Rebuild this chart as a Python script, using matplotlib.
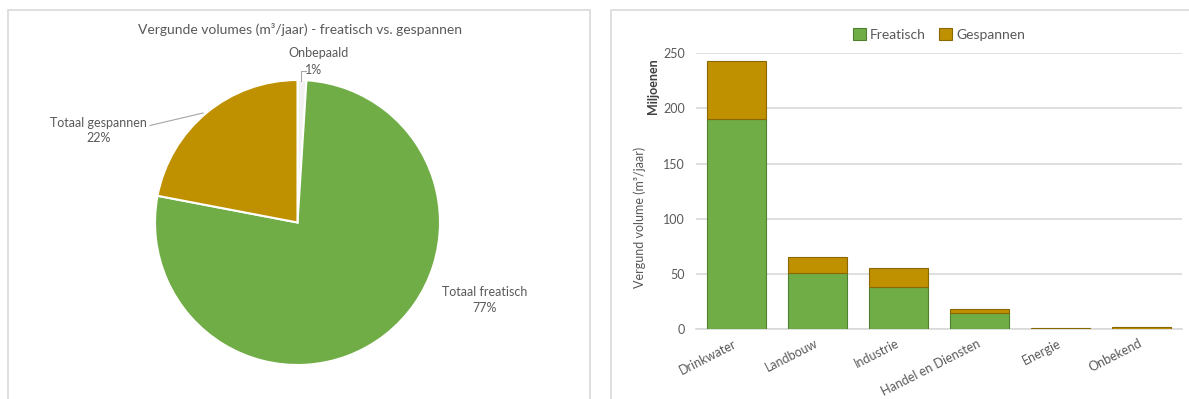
import matplotlib
matplotlib.use("Agg")
import matplotlib.pyplot as plt
import matplotlib.transforms as mtransforms
from matplotlib.patches import Rectangle

plt.rcParams['font.family'] = ['Lato', 'DejaVu Sans']

# ---- data ----
pie_labels = ["Onbepaald", "Totaal freatisch", "Totaal gespannen"]
pie_values = [1, 77, 22]
pie_colors = ["#f2f2f2", "#70AD47", "#BF9000"]

categories = ["Drinkwater", "Landbouw", "Industrie", "Handel en Diensten", "Energie", "Onbekend"]
freatisch = [190.0, 51.0, 38.5, 14.5, 0.4, 0.3]
gespannen = [53.0, 14.0, 17.0, 3.5, 0.5, 1.7]
yticks = [0, 50, 100, 150, 200, 250]

W, H = 1189, 399
fig = plt.figure(figsize=(W / 100, H / 100), dpi=100)
TXT = "#595959"
GRID = "#d9d9d9"

def fx(px):
    return px / W

def fy(py):
    return 1 - py / H

# panel borders
fig.patches.append(Rectangle((fx(7.5), fy(420)), fx(590 - 7.5), fy(9.5) - fy(420),
                             transform=fig.transFigure, fill=False, ec=GRID, lw=1.2))
fig.patches.append(Rectangle((fx(610.5), fy(420)), fx(1200 - 610.5), fy(9.5) - fy(420),
                             transform=fig.transFigure, fill=False, ec=GRID, lw=1.2))

# ---- pie (pixel-coordinate axes) ----
axp = fig.add_axes([0, 0, 600 / W, 1])
cx, cy, r = 297.5, H - 222.5, 142.5
axp.pie(pie_values, colors=pie_colors, startangle=90, counterclock=False,
        center=(cx, cy), radius=r, frame=True,
        wedgeprops=dict(edgecolor="white", linewidth=1.5))
axp.set_xlim(0, 600)
axp.set_ylim(0, H)
axp.set_aspect("auto")
axp.axis("off")

fs = 9
axp.text(299.5, H - 30, "Vergunde volumes (m³/jaar) - freatisch vs. gespannen",
         ha="center", va="center", fontsize=10, color=TXT)
axp.text(318.5, H - 53, pie_labels[0], ha="center", va="center", fontsize=fs, color=TXT)
axp.text(313.5, H - 70, f"{pie_values[0]}%", ha="center", va="center", fontsize=fs, color=TXT)
axp.plot([306, 301, 301], [H - 71, H - 71, H - 81], color="#a6a6a6", lw=0.8)
axp.text(98.5, H - 123, pie_labels[2], ha="center", va="center", fontsize=fs, color=TXT)
axp.text(98.5, H - 138, f"{pie_values[2]}%", ha="center", va="center", fontsize=fs, color=TXT)
axp.plot([150, 203], [H - 125.5, H - 113], color="#a6a6a6", lw=0.8)
axp.text(485, H - 292, pie_labels[1], ha="center", va="center", fontsize=fs, color=TXT)
axp.text(485, H - 308, f"{pie_values[1]}%", ha="center", va="center", fontsize=fs, color=TXT)

# ---- stacked bars ----
ax = fig.add_axes([fx(696), fy(329), fx(1182 - 696), fy(53.3) - fy(329)])
x = list(range(len(categories)))
ax.bar(x, freatisch, width=0.74, color="#70AD47", edgecolor="#4f7f30", linewidth=0.8,
       label="Freatisch", zorder=3)
ax.bar(x, gespannen, width=0.74, bottom=freatisch, color="#BF9000", edgecolor="#8a6800",
       linewidth=0.8, label="Gespannen", zorder=3)
ax.set_xlim(-0.5, len(categories) - 0.5)
ax.set_ylim(0, 250)
ax.set_yticks(yticks)
ax.yaxis.grid(True, color=GRID, lw=1.2, zorder=0)
ax.set_axisbelow(True)
for s in ["top", "right", "left"]:
    ax.spines[s].set_visible(False)
ax.spines["bottom"].set_color(GRID)
ax.spines["bottom"].set_linewidth(1.2)
ax.tick_params(axis="both", length=0, colors=TXT, labelsize=fs)
ax.tick_params(axis="y", pad=8)
ax.set_xticks(x)
ax.set_xticklabels(categories, rotation=27, ha="right", rotation_mode="anchor")
ax.tick_params(axis="x", pad=6)
shift = mtransforms.ScaledTranslation(-3 / 100, 0, fig.dpi_scale_trans)
for lbl in ax.get_xticklabels():
    lbl.set_transform(lbl.get_transform() + shift)

fig.text(fx(639.5), fy(217), "Vergund volume (m³/jaar)", rotation=90, ha="center",
         va="center", fontsize=fs, color=TXT)
fig.text(fx(653), fy(86), "Miljoenen", rotation=90, ha="center", va="center",
         fontsize=fs, color="#404040", fontweight="bold")

leg = ax.legend(loc="lower center", bbox_to_anchor=(0.5, 1.0), ncol=2, frameon=False,
                fontsize=10, handlelength=0.9, handleheight=0.9, handletextpad=0.3,
                columnspacing=1.0, labelcolor=TXT)

fig.savefig("out.png", dpi=100, facecolor="white")
